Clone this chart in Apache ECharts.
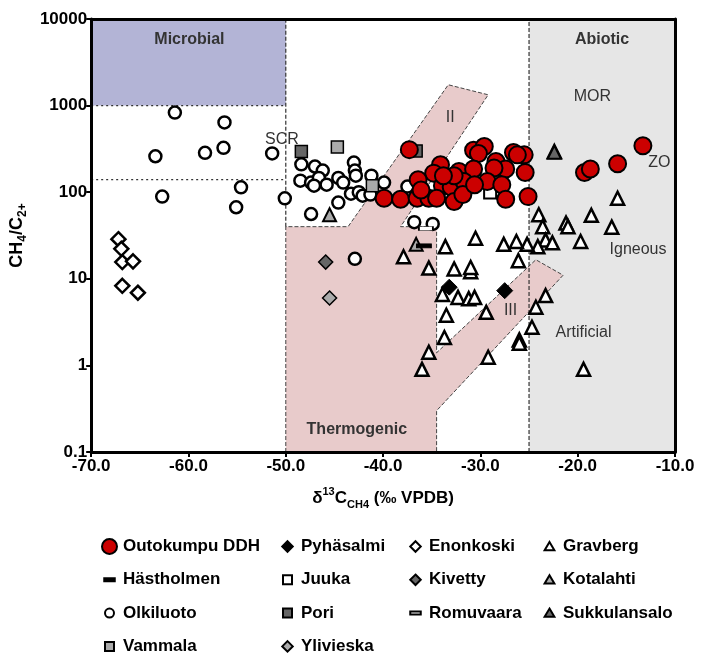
<!DOCTYPE html>
<html>
<head>
<meta charset="utf-8">
<script src="https://cdn.jsdelivr.net/npm/echarts@6/dist/echarts.min.js"></script>
<style>
  html, body { margin: 0; padding: 0; background: #fff; }
  #chart { width: 702px; height: 655px; }
</style>
</head>
<body>
<div id="chart"></div>
<script>
// x = δ13C CH4 (‰ VPDB), y = CH4/C2+
const outokumpu = [
  [-37.3, 310], [-30.7, 305], [-29.6, 337], [-30.2, 280], [-26.6, 287], [-25.5, 270], [-26.2, 270],
  [-34.1, 207], [-34.8, 166], [-32.2, 173], [-30.7, 185], [-28.4, 226], [-27.4, 185], [-28.6, 190],
  [-25.4, 169], [-36.4, 139], [-33.9, 119], [-33.0, 115], [-31.7, 133], [-29.3, 133], [-27.8, 122],
  [-32.7, 78], [-27.4, 83], [-25.1, 89], [-39.9, 85], [-38.2, 83], [-36.5, 85], [-35.3, 85],
  [-34.5, 85], [-32.7, 155], [-31.8, 94], [-30.6, 122], [-33.8, 155], [-36.1, 106],
  [-19.3, 169], [-18.7, 185], [-15.9, 213], [-13.3, 344]
];
const olkiluoto = [
  [-61.4, 830], [-56.3, 640], [-63.4, 260], [-58.3, 285], [-56.4, 325], [-51.4, 280], [-62.7, 89],
  [-54.6, 114], [-55.1, 67], [-50.1, 85], [-48.4, 210], [-47.0, 198], [-46.2, 178], [-48.5, 136],
  [-47.4, 129], [-46.6, 146], [-47.1, 119], [-45.8, 122], [-44.6, 146], [-44.1, 129], [-43.0, 220],
  [-42.9, 178], [-42.8, 155], [-43.3, 96], [-42.5, 100], [-42.1, 91], [-41.2, 155], [-41.3, 94],
  [-39.9, 129], [-44.6, 76], [-47.4, 56], [-36.8, 45], [-34.9, 43], [-37.5, 116], [-42.9, 17]
];
const gravberg = [
  [-15.9, 85], [-24.0, 55], [-23.6, 40], [-21.2, 44], [-21.0, 40], [-18.6, 54], [-16.5, 39.5],
  [-19.7, 27], [-23.3, 28], [-22.6, 26], [-24.1, 23.5], [-25.2, 25], [-26.3, 27], [-27.6, 25],
  [-30.5, 29.4], [-33.6, 23.5], [-37.9, 18], [-35.3, 13.3], [-32.7, 13], [-31.0, 12.1], [-31.0, 13.5],
  [-26.1, 16.2], [-33.9, 6.6], [-32.3, 6.1], [-31.2, 5.9], [-30.6, 6.1], [-33.5, 3.8], [-29.4, 4.1],
  [-23.3, 6.4], [-24.3, 4.7], [-24.7, 2.76], [-26.0, 1.97], [-26.0, 1.8], [-33.7, 2.1], [-35.3, 1.42],
  [-36.0, 0.9], [-29.2, 1.24], [-19.4, 0.9], [-22.4, 295]
];
const kotalahti = [[-45.5, 55], [-36.6, 25]];
const sukkulansalo = [[-22.4, 290]];
const pori = [[-48.4, 295], [-36.6, 300]];
const vammala = [[-44.7, 332], [-41.1, 119]];
const juuka = [[-29.0, 99]];
const hastholmen = [[-35.8, 24]];
const romuvaara = [[-35.6, 38]];
const pyhasalmi = [[-33.2, 8.0], [-27.5, 7.3]];
const enonkoski = [[-67.2, 28.7], [-66.9, 22.2], [-66.8, 15.6], [-65.7, 15.9], [-66.8, 8.3], [-65.2, 6.9]];
const kivetty = [[-45.9, 15.6]];
const ylivieska = [[-45.5, 6.0]];

// field outlines
const microbialBox = [[-70, 1000], [-50, 1000], [-50, 10000], [-70, 10000]];
const abioticBox = [[-25, 0.1], [-10, 0.1], [-10, 10000], [-25, 10000]];
const thermogenicField = [
  [-50, 0.1], [-50, 40], [-43.6, 40], [-33.3, 1740], [-29.2, 1333], [-38.2, 40], [-34.5, 40],
  [-34.5, 1.4], [-24.3, 16.6], [-21.5, 11], [-34.5, 0.3], [-34.5, 0.1]
];
const dottedLines = [
  [[-70, 1000], [-50, 1000]],
  [[-70, 140], [-50, 140]]
];
const dashedLines = [
  [[-50, 40], [-50, 10000]],
  [[-25, 0.1], [-25, 10000]]
];
const regionLabels = [
  [-59.9, 5760, 'Microbial', 'bold'],
  [-17.5, 5760, 'Abiotic', 'bold'],
  [-42.7, 0.18, 'Thermogenic', 'bold'],
  [-18.5, 1260, 'MOR', 'normal'],
  [-50.4, 400, 'SCR', 'normal'],
  [-11.6, 219, 'ZO', 'normal'],
  [-13.8, 21.6, 'Igneous', 'normal'],
  [-19.4, 2.4, 'Artificial', 'normal'],
  [-33.1, 725, 'II', 'normal'],
  [-26.9, 4.25, 'III', 'normal']
];

const FONT = "'Liberation Sans', Arial, sans-serif";
const pad = d => 'path://M0,0M20,20' + d;
const icons = {
  circle: pad('M4,10A6,6,0,1,1,16,10A6,6,0,1,1,4,10Z'),
  diamond: pad('M10,3L17,10L10,17L3,10Z'),
  triangle: pad('M10,4L16.5,15L3.5,15Z'),
  square: pad('M4,4L16,4L16,16L4,16Z'),
  bar: pad('M3,8L17,8L17,12L3,12Z')
};

function polygonSeries(points, fill, stroke) {
  return {
    type: 'custom', silent: true, z: 1, data: [0],
    renderItem: (params, api) => ({
      type: 'polygon',
      shape: { points: points.map(p => api.coord(p)) },
      style: { fill: fill, stroke: stroke ? '#444' : null, lineWidth: 1, lineDash: [4, 2] }
    })
  };
}
function linesSeries(lines, dash) {
  return {
    type: 'custom', silent: true, z: 1, data: lines.map((l, i) => i),
    renderItem: (params, api) => ({
      type: 'polyline',
      shape: { points: lines[params.dataIndex].map(p => api.coord(p)) },
      style: { stroke: '#333', lineWidth: 1.2, lineDash: dash, fill: null }
    })
  };
}
function scatter(name, data, symbol, size, fill, border, bw) {
  return {
    name: name, type: 'scatter', data: data, symbol: symbol, symbolSize: size, z: 3,
    itemStyle: { color: fill, borderColor: border, borderWidth: bw, opacity: 1 }
  };
}

const chart = echarts.init(document.getElementById('chart'));
const legendBase = {
  orient: 'vertical', top: 538, height: 160, padding: 0, itemWidth: 15, itemHeight: 15, itemGap: 16.3,
  selectedMode: false,
  textStyle: { fontFamily: FONT, fontWeight: 'bold', fontSize: 17, color: '#000', lineHeight: 15, padding: [0, 0, 0, 1] }
};

chart.setOption({
  animation: false,
  backgroundColor: '#fff',
  grid: { left: 89, top: 19, right: 27, bottom: 203 },
  xAxis: [{
    type: 'value', min: -70, max: -10, interval: 10, z: 10,
    name: '{b|δ}{sup|13}{b|C}{sub|CH4}{b| (‰ VPDB)}', nameLocation: 'middle', nameGap: 34,
    nameTextStyle: {
      rich: {
        b: { fontFamily: FONT, fontWeight: 'bold', fontSize: 17, color: '#000', lineHeight: 24 },
        sup: { fontFamily: FONT, fontWeight: 'bold', fontSize: 11, color: '#000', verticalAlign: 'top', lineHeight: 24 },
        sub: { fontFamily: FONT, fontWeight: 'bold', fontSize: 11, color: '#000', verticalAlign: 'bottom', lineHeight: 24 }
      }
    },
    splitLine: { show: false },
    axisLine: { lineStyle: { color: '#000', width: 3 } },
    axisTick: { length: 5, lineStyle: { color: '#000', width: 2 } },
    axisLabel: { fontFamily: FONT, fontWeight: 'bold', fontSize: 17, color: '#000', margin: 6, formatter: v => v.toFixed(1) }
  }, {
    type: 'value', position: 'top', min: -70, max: -10, z: 10,
    axisLine: { show: true, lineStyle: { color: '#000', width: 3 } },
    axisTick: { show: false }, axisLabel: { show: false }, splitLine: { show: false }
  }],
  yAxis: [{
    type: 'log', logBase: 10, min: 0.1, max: 10000, z: 10,
    name: '{b|CH}{s|4}{b|/C}{s|2+}', nameLocation: 'middle', nameGap: 51, nameRotate: 90,
    nameTextStyle: {
      rich: {
        b: { fontFamily: FONT, fontWeight: 'bold', fontSize: 18, color: '#000', lineHeight: 24 },
        s: { fontFamily: FONT, fontWeight: 'bold', fontSize: 12, color: '#000', verticalAlign: 'bottom', lineHeight: 24 }
      }
    },
    splitLine: { show: false }, minorTick: { show: false },
    axisLine: { show: true, lineStyle: { color: '#000', width: 3 } },
    axisTick: { show: true, length: 5, lineStyle: { color: '#000', width: 2 } },
    axisLabel: { fontFamily: FONT, fontWeight: 'bold', fontSize: 17, color: '#000', margin: 4,
      formatter: v => String(Number(v.toPrecision(1))) }
  }, {
    type: 'log', logBase: 10, min: 0.1, max: 10000, position: 'right', z: 10,
    axisLine: { show: true, lineStyle: { color: '#000', width: 3 } },
    axisTick: { show: false }, axisLabel: { show: false }, splitLine: { show: false }
  }],
  legend: [
    Object.assign({}, legendBase, { left: 101, data: [
      { name: 'Outokumpu DDH', icon: 'circle' }, { name: 'Hästholmen', icon: icons.bar },
      { name: 'Olkiluoto', icon: icons.circle }, { name: 'Vammala', icon: icons.square }] }),
    Object.assign({}, legendBase, { left: 279, data: [
      { name: 'Pyhäsalmi', icon: icons.diamond }, { name: 'Juuka', icon: icons.square },
      { name: 'Pori', icon: icons.square }, { name: 'Ylivieska', icon: icons.diamond }] }),
    Object.assign({}, legendBase, { left: 407, data: [
      { name: 'Enonkoski', icon: icons.diamond }, { name: 'Kivetty', icon: icons.diamond },
      { name: 'Romuvaara', icon: icons.bar }] }),
    Object.assign({}, legendBase, { left: 541, data: [
      { name: 'Gravberg', icon: icons.triangle }, { name: 'Kotalahti', icon: icons.triangle },
      { name: 'Sukkulansalo', icon: icons.triangle }] })
  ],
  series: [
    polygonSeries(microbialBox, '#b3b4d6', false),
    polygonSeries(abioticBox, '#e6e6e6', false),
    polygonSeries(thermogenicField, '#e8cbcb', true),
    linesSeries(dottedLines, [2, 3]),
    linesSeries(dashedLines, [4, 2]),
    {
      type: 'custom', silent: true, z: 2, data: regionLabels.map(l => [l[0], l[1]]),
      renderItem: (params, api) => {
        const l = regionLabels[params.dataIndex];
        const p = api.coord([l[0], l[1]]);
        return {
          type: 'text', x: p[0], y: p[1],
          style: { text: l[2], fontFamily: FONT, fontWeight: l[3], fontSize: 16,
            fill: '#333', align: 'center', verticalAlign: 'middle' }
        };
      }
    },
    scatter('Olkiluoto', olkiluoto, 'circle', 12, '#fff', '#000', 2.5),
    scatter('Enonkoski', enonkoski, 'diamond', 14, '#fff', '#000', 2.5),
    scatter('Gravberg', gravberg, 'triangle', 13, '#fff', '#000', 2.5),
    scatter('Kotalahti', kotalahti, 'triangle', 13, '#aaa', '#000', 2),
    scatter('Sukkulansalo', sukkulansalo, 'triangle', 13, '#666', '#000', 2),
    scatter('Kivetty', kivetty, 'diamond', 14, '#666', '#000', 1.5),
    scatter('Ylivieska', ylivieska, 'diamond', 14, '#aaa', '#000', 1.5),
    scatter('Romuvaara', romuvaara, 'rect', [14, 4], '#fff', '#000', 1),
    scatter('Hästholmen', hastholmen, 'rect', [14, 4], '#000', '#000', 1),
    scatter('Juuka', juuka, 'rect', 12, '#fff', '#000', 2),
    scatter('Pori', pori, 'rect', 12, '#666', '#000', 1.5),
    scatter('Vammala', vammala, 'rect', 12, '#aaa', '#000', 1.5),
    scatter('Outokumpu DDH', outokumpu, 'circle', 17, '#cc0000', '#000', 2),
    scatter('Pyhäsalmi', pyhasalmi, 'diamond', 16, '#000', '#000', 1)
  ]
});
</script>
</body>
</html>
